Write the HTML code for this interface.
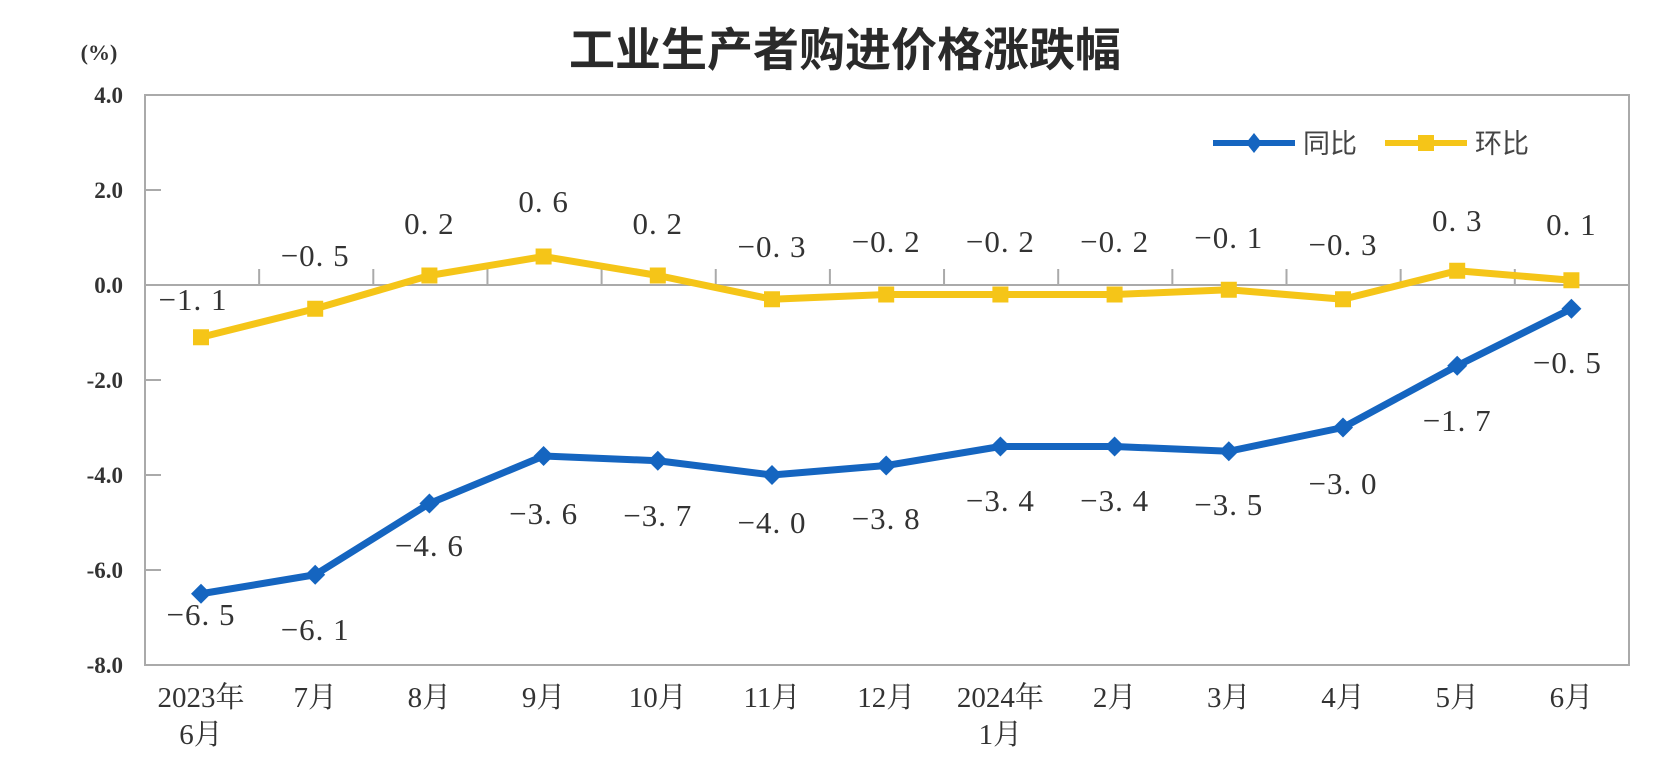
<!DOCTYPE html>
<html><head><meta charset="utf-8"><style>
html,body{margin:0;padding:0;background:#fff;}
svg{display:block;}
.t{font-family:"Liberation Serif","Noto Serif CJK SC",serif;fill:#333;}
</style></head><body>
<svg width="1662" height="781" viewBox="0 0 1662 781" xmlns="http://www.w3.org/2000/svg">
<rect width="1662" height="781" fill="#fff"/>
<text x="845" y="66" text-anchor="middle" font-family="'Liberation Sans','Noto Sans CJK SC',sans-serif" font-size="46" font-weight="bold" fill="#2a2a2a">工业生产者购进价格涨跌幅</text>
<text class="t" x="99" y="60" text-anchor="middle" font-size="22" font-weight="bold">(%)</text>
<g class="t" font-size="23" font-weight="bold" text-anchor="end">
<text x="123" y="103">4.0</text>
<text x="123" y="198">2.0</text>
<text x="123" y="293">0.0</text>
<text x="123" y="388">-2.0</text>
<text x="123" y="483">-4.0</text>
<text x="123" y="578">-6.0</text>
<text x="123" y="673">-8.0</text>
</g>
<rect x="145" y="95" width="1484" height="570" fill="none" stroke="#aaa" stroke-width="2"/>
<g stroke="#aaa" stroke-width="2">
<line x1="145" y1="190" x2="161" y2="190"/>
<line x1="145" y1="380" x2="161" y2="380"/>
<line x1="145" y1="475" x2="161" y2="475"/>
<line x1="145" y1="570" x2="161" y2="570"/>
<line x1="145" y1="285" x2="1629" y2="285"/>
</g>
<g id="ticks" stroke="#aaa" stroke-width="2"></g>
<g id="lines"></g>
<g class="t" font-size="31" letter-spacing="1" text-anchor="middle" id="labels"></g>
<g class="t" font-size="29" text-anchor="middle" id="xl"></g>
<line x1="1213" y1="143" x2="1295" y2="143" stroke="#1565c0" stroke-width="6"/>
<path d="M1254 133 L1262 143 L1254 153 L1246 143Z" fill="#1565c0"/>
<text x="1303" y="153" font-family="'Liberation Sans','Noto Sans CJK SC',sans-serif" font-size="27" fill="#444">同比</text>
<line x1="1385" y1="143" x2="1467" y2="143" stroke="#f5c518" stroke-width="6"/>
<rect x="1418" y="135" width="16" height="16" fill="#f5c518"/>
<text x="1475" y="153" font-family="'Liberation Sans','Noto Sans CJK SC',sans-serif" font-size="27" fill="#444">环比</text>
</svg>
<script>
var ns="http://www.w3.org/2000/svg";
function el(p,t,a,txt){var e=document.createElementNS(ns,t);for(var k in a)e.setAttribute(k,a[k]);if(txt!==undefined)e.textContent=txt;document.getElementById(p).appendChild(e);return e;}
var x0=201,s=114.2,Y=function(v){return 285-47.5*v;};
var blue=[-6.5,-6.1,-4.6,-3.6,-3.7,-4.0,-3.8,-3.4,-3.4,-3.5,-3.0,-1.7,-0.5];
var yel=[-1.1,-0.5,0.2,0.6,0.2,-0.3,-0.2,-0.2,-0.2,-0.1,-0.3,0.3,0.1];
var by=[614,629,545,513,515,522,518,500,500,504,483,420,362];
var yy=[299,255,223,201,223,246,241,241,241,237,244,220,224];
for(var i=1;i<13;i++){var tx=145+i*114.15;el("ticks","line",{x1:tx,y1:269,x2:tx,y2:285});}
function pts(a){return a.map(function(v,i){return (x0+s*i)+","+Y(v)}).join(" ");}
el("lines","polyline",{points:pts(yel),fill:"none",stroke:"#f5c518","stroke-width":7,"stroke-linejoin":"round"});
el("lines","polyline",{points:pts(blue),fill:"none",stroke:"#1565c0","stroke-width":7,"stroke-linejoin":"round"});
yel.forEach(function(v,i){var x=x0+s*i,y=Y(v);el("lines","rect",{x:x-8,y:y-8,width:16,height:16,fill:"#f5c518"});});
blue.forEach(function(v,i){var x=x0+s*i,y=Y(v);el("lines","path",{d:"M"+x+" "+(y-10)+" L"+(x+10)+" "+y+" L"+x+" "+(y+10)+" L"+(x-10)+" "+y+"Z",fill:"#1565c0"});});
function fmt(v){var a=Math.abs(v).toFixed(1).replace(".",". ");return (v<0?"\u2212":"")+a;}
yel.forEach(function(v,i){var x=x0+s*i+(i==0?-8:0);el("labels","text",{x:x,y:yy[i]+11},fmt(v));});
blue.forEach(function(v,i){var x=x0+s*i+(i==12?-4:0);el("labels","text",{x:x,y:by[i]+11},fmt(v));});
var xl=["2023年","7月","8月","9月","10月","11月","12月","2024年","2月","3月","4月","5月","6月"];
xl.forEach(function(t,i){el("xl","text",{x:x0+s*i,y:707},t);});
el("xl","text",{x:x0,y:744},"6月");el("xl","text",{x:x0+s*7,y:744},"1月");
</script>
</body></html>
